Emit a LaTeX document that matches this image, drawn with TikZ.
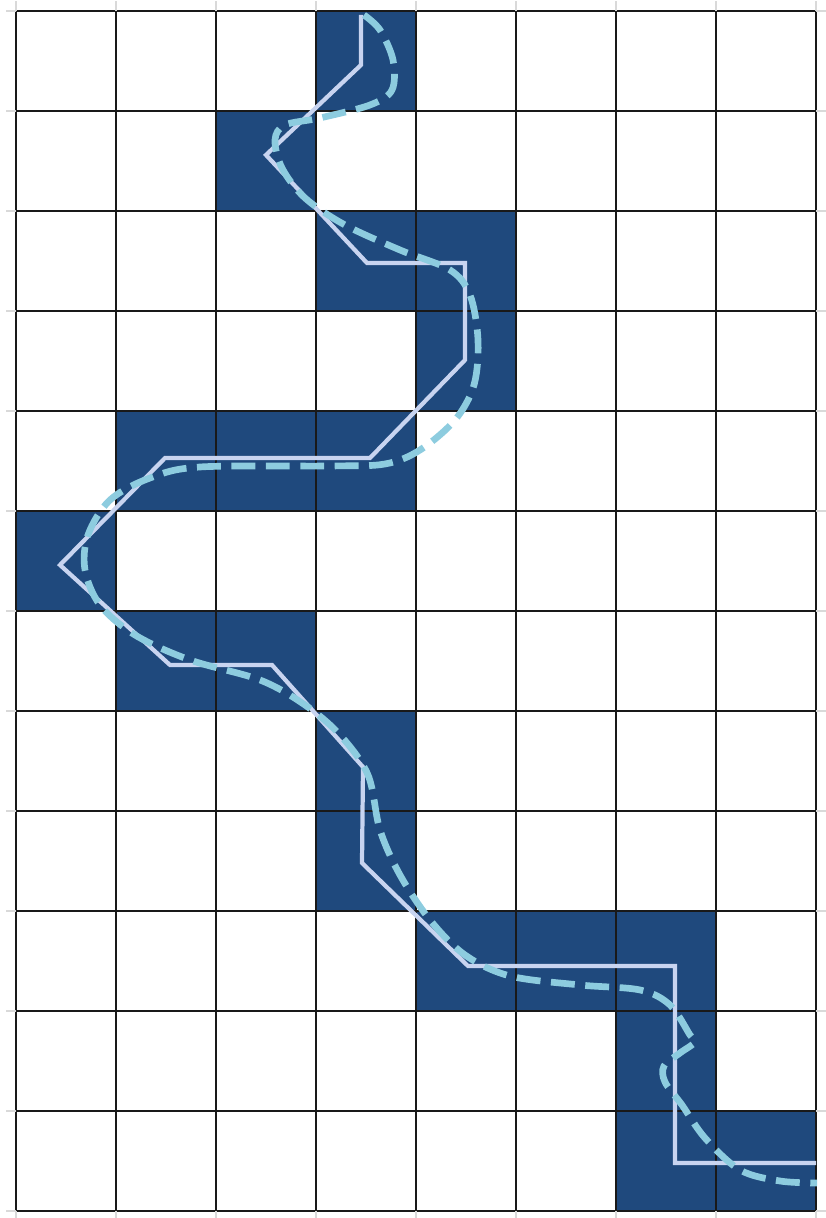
\documentclass[tikz,border=0pt]{standalone}
\usepackage{tikz}
\definecolor{azulescuro}{HTML}{1F497D}
\definecolor{lilas}{HTML}{C8D4F0}
\definecolor{azulclaro}{HTML}{8DCCDF}

\begin{document}
\begin{tikzpicture}[
    celula/.style={fill=azulescuro},
    grade/.style={line width=0.6pt, black!90},
    marca/.style={line width=0.4pt, black!15},
    caminho/.style={draw=lilas, line width=1.2pt},
    tracejado/.style={draw=azulclaro, line width=1.9pt, dash pattern=on 6.8pt off 3pt},
  ]
  \useasboundingbox (-0.16,-0.07) rectangle (8.10,12.11);

  % Celulas preenchidas
  \foreach \x/\y in {3/11, 2/10, 3/9, 4/9, 4/8, 1/7, 2/7, 3/7, 0/6, 1/5, 2/5,
                     3/4, 3/3, 4/2, 5/2, 6/2, 6/1, 6/0, 7/0}
    \fill[celula] (\x,\y) rectangle ++(1,1);

  % Grade
  \draw[grade] (0,0) grid (8,12);
  \foreach \x in {0,...,8} {
    \draw[marca] (\x,12) -- (\x,12.1);
    \draw[marca] (\x,0) -- (\x,-0.1);
  }
  \foreach \y in {0,...,12} {
    \draw[marca] (0,\y) -- (-0.1,\y);
    \draw[marca] (8,\y) -- (8.1,\y);
  }

  % Caminho pelas celulas
  \draw[caminho] (3.45,11.96) -- (3.45,11.46) -- (2.50,10.56) -- (3.51,9.48)
    -- (4.49,9.48) -- (4.49,8.51) -- (3.54,7.53) -- (1.49,7.53) -- (0.44,6.46)
    -- (1.54,5.46) -- (2.56,5.46) -- (3.47,4.44) -- (3.46,3.48) -- (4.52,2.45)
    -- (6.59,2.45) -- (6.59,0.48) -- (8.00,0.48);

  % Curva suavizada (tracejado)
  \draw[tracejado] plot[smooth, tension=0.55] coordinates {
    (3.48,11.96) (3.64,11.81) (3.77,11.51) (3.76,11.21) (3.54,11.06)
    (3.04,10.93) (2.69,10.86) (2.59,10.71) (2.66,10.43) (2.89,10.13)
    (3.29,9.86) (3.84,9.61) (4.34,9.41) (4.54,9.16) (4.62,8.71)
    (4.58,8.26) (4.39,7.91) (4.04,7.61) (3.69,7.47) (3.14,7.45)
    (1.84,7.44) (1.34,7.33) (0.94,7.11) (0.72,6.76) (0.69,6.41)
    (0.84,6.06) (1.19,5.76) (1.74,5.51) (2.44,5.31) (2.89,5.06)
    (3.24,4.76) (3.52,4.36) (3.64,3.81) (3.84,3.36) (4.14,2.91)
    (4.49,2.56) (4.94,2.35) (5.64,2.26) (6.24,2.21) (6.54,2.06)
    (6.74,1.76) (6.79,1.69) (6.64,1.58) (6.48,1.45) (6.49,1.29)
    (6.66,1.06) (6.89,0.73) (7.24,0.41) (7.64,0.30) (8.01,0.28)};
\end{tikzpicture}
\end{document}
